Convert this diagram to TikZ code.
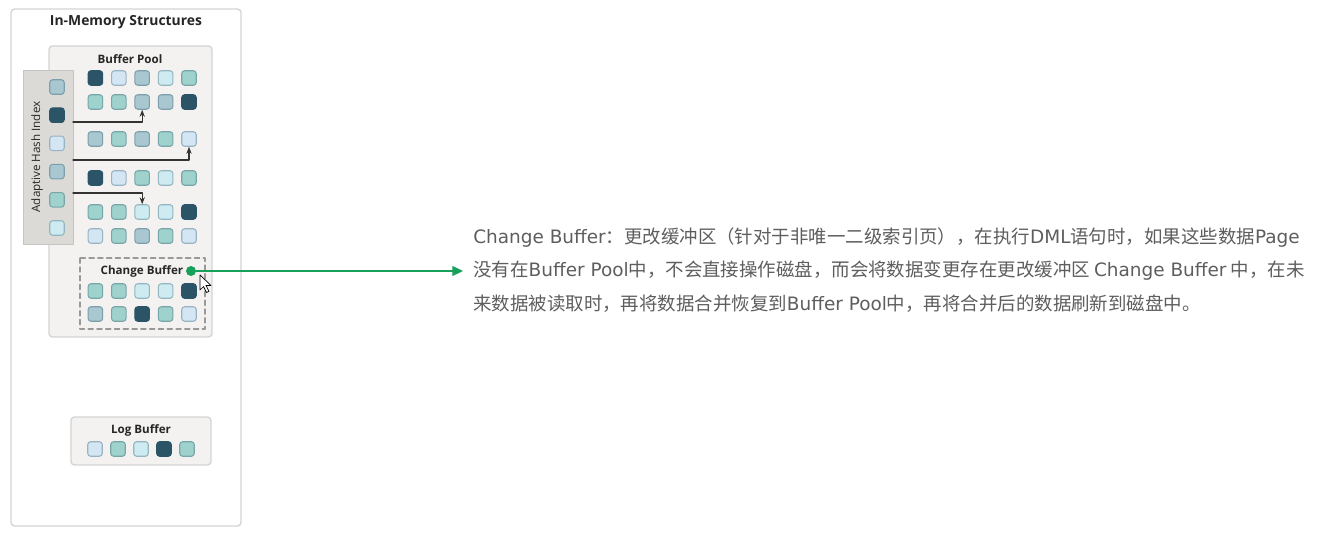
\documentclass[tikz,border=0pt]{standalone}
\usepackage{fontspec}
\setsansfont{Open Sans}
\newfontfamily\cjk{Noto Sans CJK SC}
\newfontfamily\lat{DejaVu Sans}
\usetikzlibrary{arrows.meta}
\definecolor{dk}{HTML}{2B5567}
\definecolor{md}{HTML}{A8C7D0}
\definecolor{tl}{HTML}{A0D2CD}
\definecolor{pl}{HTML}{CDEBF0}
\definecolor{lb}{HTML}{D4E6F3}
\definecolor{frame}{HTML}{D4D4D4}
\definecolor{panel}{HTML}{F3F2F0}
\definecolor{ahigray}{HTML}{DCDAD7}
\definecolor{okgreen}{HTML}{16A05A}
\definecolor{txtgray}{HTML}{5E5E5E}
\begin{document}
\begin{tikzpicture}[x=0.02cm, y=-0.02cm, line cap=round, line join=round, font=\sffamily,
	pg/.style={draw=#1!65!dk, fill=#1, line width=0.6pt, rounded corners=1.6pt, minimum size=0.29cm, inner sep=0pt},
	ttl/.style={font=\sffamily\bfseries\fontsize{7.9}{9}\selectfont, text=black!85},
	lbl/.style={font=\sffamily\bfseries\fontsize{6.6}{8}\selectfont, text=black!85},
	ahiarrow/.style={-{Stealth[length=4pt,width=3pt]}, black!80, line width=0.6pt},
	note/.style={anchor=west, inner sep=0pt, text=txtgray, font=\cjk\fontsize{10.5}{12}\selectfont}]
	\useasboundingbox[fill=white] (0,0) rectangle (1336,533);
	% frames
	\draw[frame, fill=white, line width=0.8pt, rounded corners=2pt] (11,9) rectangle (241,526);
	\node[ttl] (title) at (126,22) {In-Memory Structures};
	\draw[frame, fill=panel, line width=0.8pt, rounded corners=2pt] (49,46) rectangle (212,337);
	\node[lbl] (bplbl) at (130,59) {Buffer Pool};
	\draw[ahigray!90!black, fill=ahigray, line width=0.5pt] (23,70) rectangle (73,244);
	\node[lbl, font=\sffamily\fontsize{6.6}{8}\selectfont, rotate=90] (ahilbl) at (37,157) {Adaptive Hash Index};
	% adaptive hash index pages
	\foreach \cl [count=\i] in {md,dk,lb,md,tl,pl} {
		\node[pg=\cl] (a\i) at (57,{87+28.2*(\i-1)}) {};
	}
	% buffer pool pages
	\foreach \y/\row [count=\r] in {78/{dk,lb,md,pl,tl}, 102/{tl,tl,md,md,dk}, 139/{md,tl,md,tl,lb}, 178/{dk,lb,tl,pl,tl}, 212/{tl,tl,pl,pl,dk}, 236/{lb,tl,md,tl,lb}} {
		\foreach \cl [count=\c] in \row {
			\node[pg=\cl] (b\r\c) at ({72+23.4*\c},\y) {};
		}
	}
	\coordinate (h1) at (73,122);
	\coordinate (h2) at (73,160);
	\coordinate (h3) at (73,193);
	\draw[ahiarrow] (h1) -| (b23.south);
	\draw[ahiarrow] (h2) -| (b35.south);
	\draw[ahiarrow] (h3) -| (b53.north);
	% change buffer
	\draw[black!40, line width=0.6pt, dash pattern=on 3pt off 2pt] (80,258) rectangle (205,329);
	\node[lbl] (cblbl) at (142,271) {Change Buffer};
	\foreach \y/\row [count=\r] in {291/{tl,tl,pl,pl,dk}, 314/{md,tl,dk,tl,lb}} {
		\foreach \cl [count=\c] in \row {
			\node[pg=\cl] (c\r\c) at ({72+23.4*\c},\y) {};
		}
	}
	% log buffer
	\draw[frame, fill=panel, line width=0.8pt, rounded corners=2pt] (71,417) rectangle (211,465);
	\node[lbl] (lglbl) at (141,430) {Log Buffer};
	\foreach \cl [count=\c] in {lb,tl,pl,dk,tl} {
		\node[pg=\cl] (l\c) at ({72+23*\c},449) {};
	}
	% pointer
	\node[circle, fill=okgreen, inner sep=0pt, minimum size=0.2cm] (dot) at (191,271) {};
	\coordinate (tip) at (463,271);
	\draw[okgreen, line width=1.1pt, -{Triangle[length=6pt,width=5.5pt]}] (dot) -- (tip);
	\draw[fill=white, line width=0.4pt] (200,275) -- ++(0,15) -- ++(3.5,-3.5) -- ++(3,6) -- ++(2.5,-1.2) -- ++(-3,-5.8) -- ++(5,0) -- cycle;
	% note
	\node[note] (n1) at (473,238) {{\lat Change Buffer}：更改缓冲区（针对于非唯一二级索引页），在执行{\lat DML}语句时，如果这些数据{\lat Page}};
	\node[note] (n2) at (473,271) {没有在{\lat Buffer Pool}中，不会直接操作磁盘，而会将数据变更存在更改缓冲区 {\lat Change Buffer} 中，在未};
	\node[note] (n3) at (473,304) {来数据被读取时，再将数据合并恢复到{\lat Buffer Pool}中，再将合并后的数据刷新到磁盘中。};
\end{tikzpicture}
\end{document}
